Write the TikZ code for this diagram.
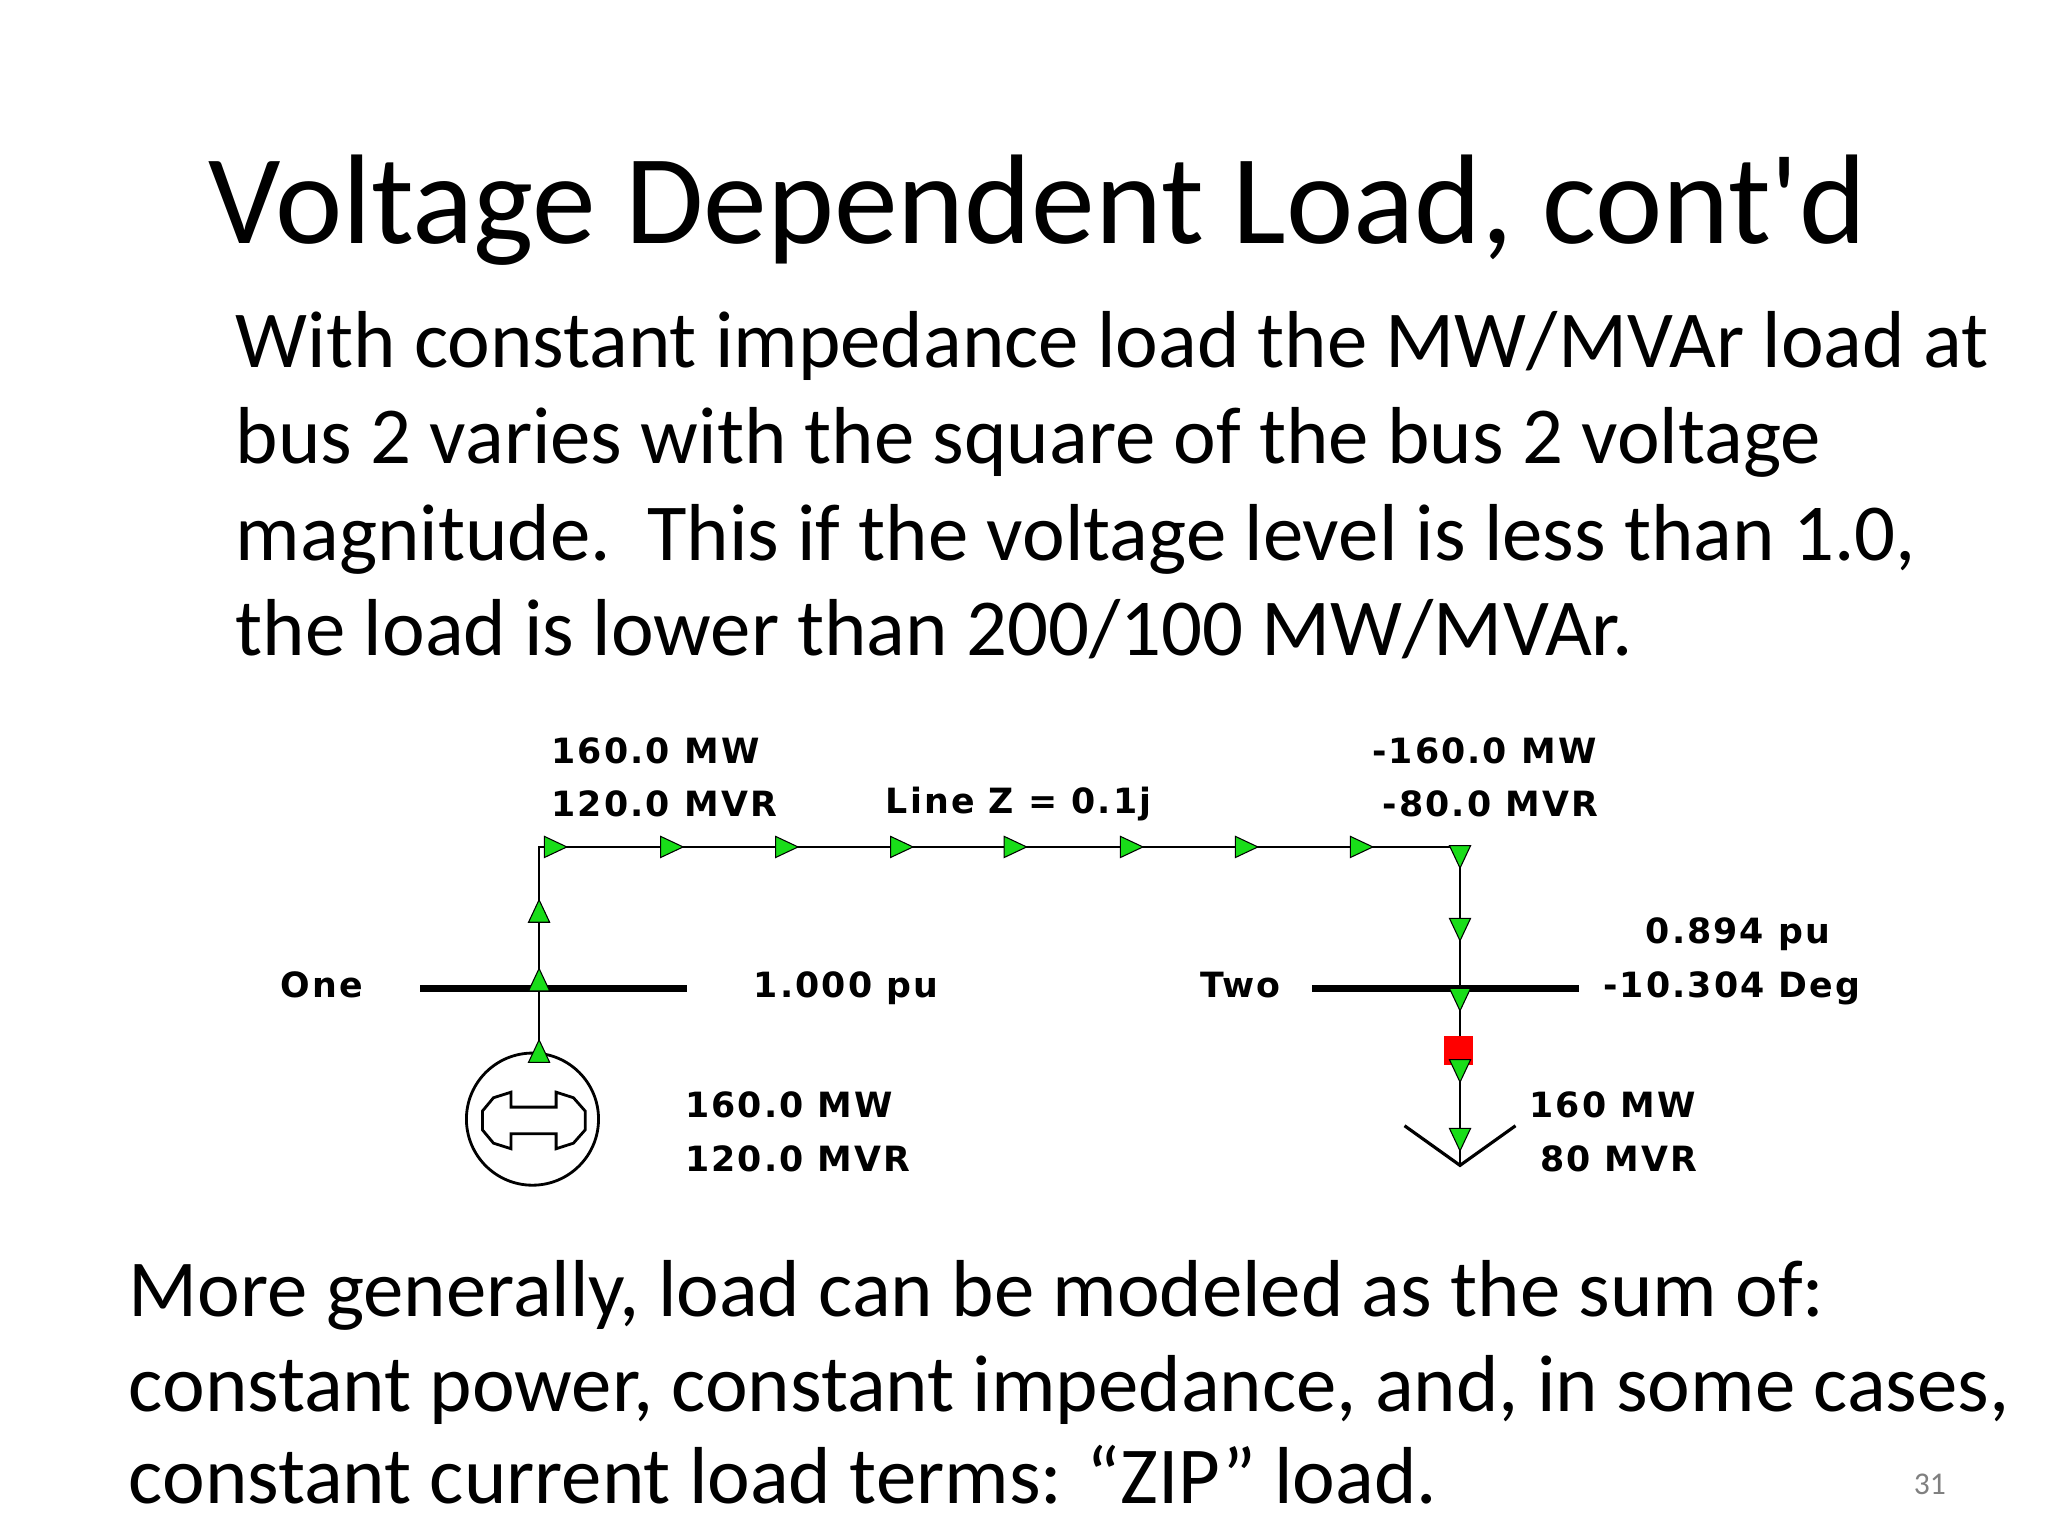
\documentclass[tikz,border=0pt]{standalone}
\usepackage{fontspec}
\setmainfont{Carlito}
\newfontfamily\plainfont{Carlito}
\newfontfamily\lbl[LetterSpace=6]{DejaVu Sans Bold}
\begin{document}
\begin{tikzpicture}[x=0.013213cm,y=-0.013213cm,
  lab/.style={anchor=base west,inner sep=0,font=\lbl\fontsize{9.9}{12}\selectfont},
  body/.style={anchor=base west,inner sep=0,font=\fontsize{23}{28}\selectfont},
  wire/.style={line width=0.6pt},
  bus/.style={line width=2pt},
  tri/.style={fill=green!85!black!90,draw=black,line width=0.3pt}]
\useasboundingbox (0,0) rectangle (1550,1162.5);
\node[anchor=base west,inner sep=0,font=\plainfont\fontsize{36.3}{42}\selectfont] (title) at (157,184) {Voltage Dependent Load, cont'd};
\node[body] (b1) at (178,278) {With constant impedance load the MW/MVAr load at};
\node[body] (b2) at (178,351) {bus 2 varies with the square of the bus 2 voltage};
\node[body] (b3) at (178,424) {magnitude.\ \ This if the voltage level is less than 1.0,};
\node[body] (b4) at (178,496) {the load is lower than 200/100 MW/MVAr.};
\node[body] (c1) at (97,996) {More generally, load can be modeled as the sum of:};
\node[body] (c2) at (97,1068) {constant power, constant impedance, and, in some cases,};
\node[body] (c3) at (97,1138) {constant current load terms: “ZIP” load.};
\node[anchor=base west,inner sep=0,text=gray,font=\fontsize{9}{10}\selectfont] (pg) at (1448,1131) {31};
% buses
\coordinate (o1) at (318,748); \coordinate (o2) at (520,748);
\coordinate (t1) at (993,748); \coordinate (t2) at (1195,748);
\draw[bus] (o1) -- (o2);
\draw[bus] (t1) -- (t2);
\coordinate (c1a) at (408,641); \coordinate (c2a) at (1105,641);
\coordinate (lbot) at (1105,882);
\node[circle,draw,line width=0.8pt,minimum size=100*0.013213cm,inner sep=0] (gen) at (403,847) {};
\draw[wire] (408,797) -- (c1a) -- (c2a) -- (lbot);
\draw[line width=0.9pt] (1063,852) -- (lbot) -- (1147,852);
\node[fill=red,minimum size=22*0.013213cm,inner sep=0] (brk) at (1104,795) {};
% generator inner symbol
\begin{scope}[shift={(404,848)}]
\draw[line width=0.8pt] (-38.9,-7.1) -- (-30.5,-17.2) -- (-17.2,-21.4) -- (-17.2,-10.1) -- (16.9,-10.1) -- (16.9,-21.4) -- (30,-17.2) -- (38.9,-7.1)
 -- (38.9,7.1) -- (30,17.2) -- (16.9,21.4) -- (16.9,10.1) -- (-17.2,10.1) -- (-17.2,21.4) -- (-30.5,17.2) -- (-38.9,7.1) -- cycle;
\end{scope}
% triangles
\foreach \x in {420,508,595,682,768,856,943,1030}
  \draw[tri] (\x-8,641-8) -- (\x+9,641) -- (\x-8,641+8) -- cycle;
\foreach \y in {690,742,796}
  \draw[tri] (408-8,\y+8) -- (408,\y-9) -- (408+8,\y+8) -- cycle;
\foreach \y in {648,703,756,810,862}
  \draw[tri] (1105-8,\y-8) -- (1105,\y+9) -- (1105+8,\y-8) -- cycle;
% labels
\node[lab] (l1) at (417,578) {160.0 MW};
\node[lab] (l2) at (417,618) {120.0 MVR};
\node[lab] (lz) at (670,616) {Line Z = 0.1j};
\node[lab] (r1) at (1038,578) {-160.0 MW};
\node[lab] (r2) at (1046,618) {-80.0 MVR};
\node[lab] (v2) at (1245,714) {0.894 pu};
\node[lab] (a2) at (1213,755) {-10.304 Deg};
\node[lab] (n1) at (212,755) {One};
\node[lab] (v1) at (570,755) {1.000 pu};
\node[lab] (n2) at (908,755) {Two};
\node[lab] (g1) at (518,846) {160.0 MW};
\node[lab] (g2) at (518,887) {120.0 MVR};
\node[lab] (d1) at (1157,846) {160 MW};
\node[lab] (d2) at (1165,887) {80 MVR};
\end{tikzpicture}
\end{document}
